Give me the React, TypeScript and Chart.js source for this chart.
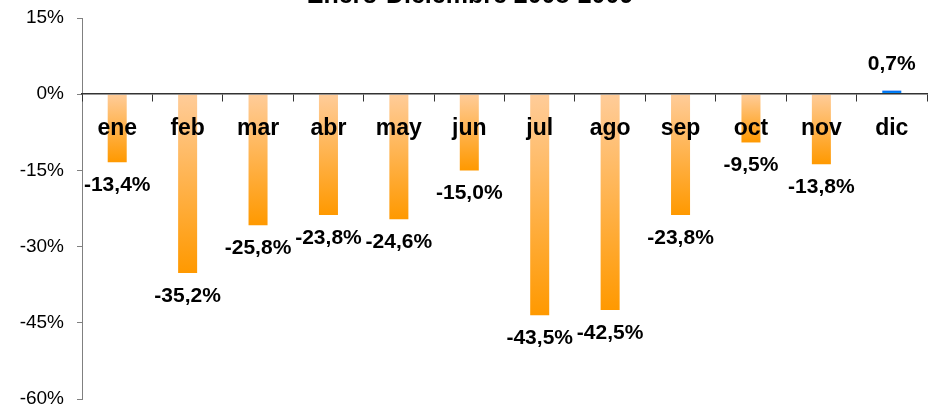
import React, { useEffect, useRef } from "react";
import { Chart, registerables } from "chart.js";

Chart.register(...registerables);

const months = ["ene", "feb", "mar", "abr", "may", "jun", "jul", "ago", "sep", "oct", "nov", "dic"];
const values = [-13.4, -35.2, -25.8, -23.8, -24.6, -15.0, -43.5, -42.5, -23.8, -9.5, -13.8, 0.7];
const yTicks = [15, 0, -15, -30, -45, -60];
const titleText = "Enero-Diciembre 2008-2009";

const FONT = "'Liberation Sans', Arial, Helvetica, sans-serif";

const titlePlugin = {
  id: "cutTitle",
  afterDraw(chart: any) {
    const ctx = chart.ctx;
    ctx.save();
    ctx.font = `bold 25px ${FONT}`;
    ctx.fillStyle = "#000";
    ctx.textAlign = "center";
    ctx.textBaseline = "alphabetic";
    ctx.fillText(titleText, 470, 3);
    ctx.restore();
  },
};

const labelPlugin = {
  id: "valueLabels",
  afterDatasetsDraw(chart: any) {
    const ctx = chart.ctx;
    const meta = chart.getDatasetMeta(0);
    ctx.save();
    ctx.font = `bold 21px ${FONT}`;
    ctx.fillStyle = "#000";
    ctx.textAlign = "center";
    ctx.textBaseline = "middle";
    meta.data.forEach((el: any, i: number) => {
      const v = values[i];
      const txt = v.toFixed(1).replace(".", ",") + "%";
      const y = v < 0 ? el.y + 23 : el.y - 26;
      ctx.fillText(txt, el.x, y);
    });
    ctx.restore();
  },
};

export default function App() {
  const ref = useRef<HTMLCanvasElement | null>(null);
  useEffect(() => {
    if (!ref.current) return;
    const chart = new Chart(ref.current, {
      type: "bar",
      data: {
        labels: months,
        datasets: [
          {
            data: values,
            barPercentage: 0.27,
            categoryPercentage: 1,
            borderWidth: 0,
            backgroundColor: (c: any) => {
              const ch = c.chart;
              const ys = ch.scales && ch.scales.y;
              const v = values[c.dataIndex];
              if (!ys || v === undefined) return v >= 0 ? "#0a84f0" : "#ffb266";
              const y0 = ys.getPixelForValue(0);
              const y1 = ys.getPixelForValue(v);
              if (y0 === y1 || !isFinite(y0) || !isFinite(y1)) return "#ffb266";
              const g = ch.ctx.createLinearGradient(0, y0, 0, y1);
              if (v < 0) {
                g.addColorStop(0, "#ffcc99");
                g.addColorStop(1, "#ff9900");
              } else {
                g.addColorStop(0, "#00a8ff");
                g.addColorStop(1, "#0060f0");
              }
              return g;
            },
          },
        ],
      },
      options: {
        animation: false,
        responsive: true,
        maintainAspectRatio: false,
        layout: { padding: { left: 0, right: 7, top: 18, bottom: 9 } },
        plugins: {
          legend: { display: false },
          tooltip: { enabled: false },
          title: { display: false },
        },
        scales: {
          x: {
            type: "category",
            position: { y: 0 } as any,
            grid: {
              display: true,
              drawOnChartArea: false,
              drawTicks: true,
              tickLength: 7,
              offset: true,
              color: "#333",
              z: 1,
            },
            border: { display: true, color: "#333", width: 1.5, z: 1 },
            ticks: {
              color: "#000",
              padding: 14,
              z: 1,
              font: { family: FONT, size: 23, weight: "bold" },
              maxRotation: 0,
              autoSkip: false,
            },
          },
          y: {
            min: -60,
            max: 15,
            afterBuildTicks: (s: any) => {
              s.ticks = yTicks.map((v) => ({ value: v }));
            },
            afterFit: (s: any) => {
              s.width = 82;
              s.paddingTop = 0;
              s.paddingBottom = 0;
            },
            grid: {
              display: true,
              drawOnChartArea: false,
              drawTicks: true,
              tickLength: 5,
              color: "#808080",
            },
            border: { display: true, color: "#808080", width: 1 },
            ticks: {
              color: "#000",
              padding: 13,
              font: { family: FONT, size: 19, lineHeight: 1 },
              callback: (v: any) => `${v}%`,
            },
          },
        },
      },
      plugins: [labelPlugin, titlePlugin],
    });
    return () => chart.destroy();
  }, []);
  return (
    <div style={{ position: "fixed", left: 0, top: 0, width: 934, height: 408, background: "#fff" }}>
      <canvas ref={ref} />
    </div>
  );
}
